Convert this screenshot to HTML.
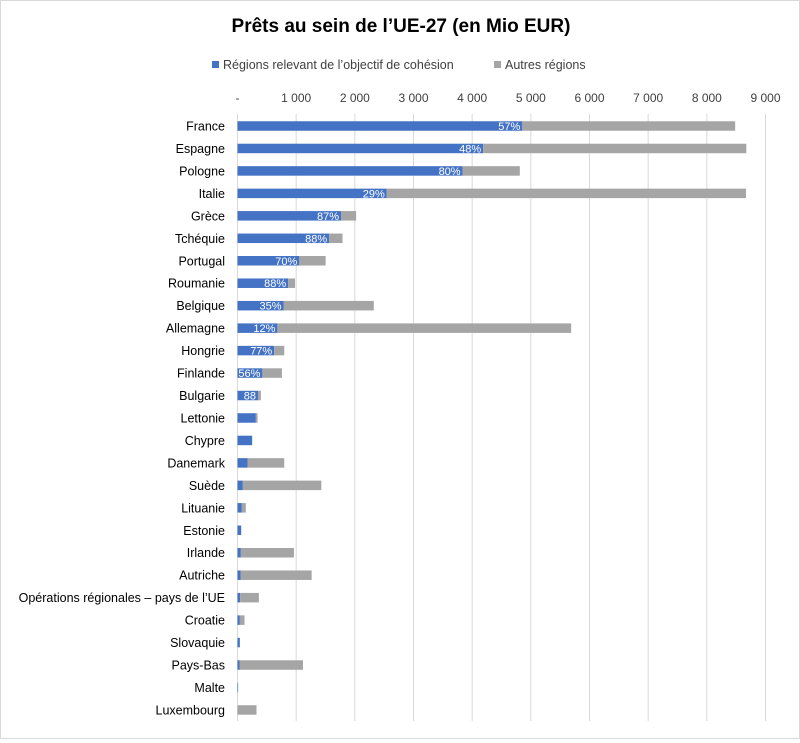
<!DOCTYPE html>
<html><head><meta charset="utf-8"><style>
body{margin:0;background:#fff;font-family:"Liberation Sans",sans-serif;}
#wrap{position:relative;width:798px;height:737px;border:1px solid #d9d9d9;}
</style></head><body>
<div id="wrap">
<svg id="chart" width="798" height="737" font-family="Liberation Sans, sans-serif">
<text x="400" y="31" text-anchor="middle" font-size="19" font-weight="bold" fill="#000">Prêts au sein de l’UE-27 (en Mio EUR)</text>
<g>
<rect x="211" y="60" width="7" height="7" fill="#4472c4"/>
<text x="222" y="68" font-size="12.5" fill="#404040">Régions relevant de l’objectif de cohésion</text>
<rect x="493" y="60" width="7" height="7" fill="#a5a5a5"/>
<text x="504" y="68" font-size="12.5" fill="#404040">Autres régions</text>
</g>
<g id="grid"></g><g id="bars"></g><g id="labels"></g>
</svg>
</div>
<script>
const categories=["France","Espagne","Pologne","Italie","Grèce","Tchéquie","Portugal","Roumanie","Belgique","Allemagne","Hongrie","Finlande","Bulgarie","Lettonie","Chypre","Danemark","Suède","Lituanie","Estonie","Irlande","Autriche","Opérations régionales – pays de l’UE","Croatie","Slovaquie","Pays-Bas","Malte","Luxembourg"];
const cohesion=[4855,4187,3837,2544,1765,1563,1054,864,784,680,626,424,350,313,250,171,91,74,63,57,51,46,40,40,34,10,0];
const others=[3628,4486,975,6123,257,227,448,117,1539,5007,171,333,48,29,0,626,1338,68,0,905,1213,318,80,0,1082,2,324];
const pctLabels=["57%","48%","80%","29%","87%","88%","70%","88%","35%","12%","77%","56%","88"];
const ticks=[0,1000,2000,3000,4000,5000,6000,7000,8000,9000];
const tickLabels=["-","1 000","2 000","3 000","4 000","5 000","6 000","7 000","8 000","9 000"];
const NS="http://www.w3.org/2000/svg";
const x0=236.5,x1=764.5,maxV=9000,yTop=125,step=22.46,bh=9.5;
const xs=v=>x0+(x1-x0)*v/maxV;
const ys=i=>yTop+i*step;
function mk(t,a,parent){const e=document.createElementNS(NS,t);for(const k in a)e.setAttribute(k,a[k]);parent.appendChild(e);return e;}
const grid=document.getElementById('grid'),bars=document.getElementById('bars'),labels=document.getElementById('labels');
ticks.forEach((t,i)=>{
 const l=mk('line',{x1:xs(t),x2:xs(t),y1:113,y2:720,stroke:'#d9d9d9','stroke-width':1},grid);
 
 
 const tx=mk('text',{x:xs(t),y:101,'text-anchor':'middle','font-size':12,fill:'#404040'},grid);
 tx.textContent=tickLabels[i];
 
 
});
categories.forEach((c,i)=>{
 const y=ys(i);
 const cl=mk('text',{x:224,y:y+4.5,'text-anchor':'end','font-size':12.5,fill:'#000'},labels);
 cl.textContent=c;
 
 
 const b1=mk('rect',{x:xs(0),y:y-bh/2,width:xs(cohesion[i])-xs(0),height:bh,fill:'#4472c4'},bars);
 
 
 const b2=mk('rect',{x:xs(cohesion[i]),y:y-bh/2,width:xs(cohesion[i]+others[i])-xs(cohesion[i]),height:bh,fill:'#a5a5a5'},bars);
 
 
 if(i<pctLabels.length){
  const pl=mk('text',{x:xs(cohesion[i])-2,y:y+4,'text-anchor':'end','font-size':11,fill:'#fff'},labels);
  pl.textContent=pctLabels[i];
  
  
 }
});
</script>
</body></html>
